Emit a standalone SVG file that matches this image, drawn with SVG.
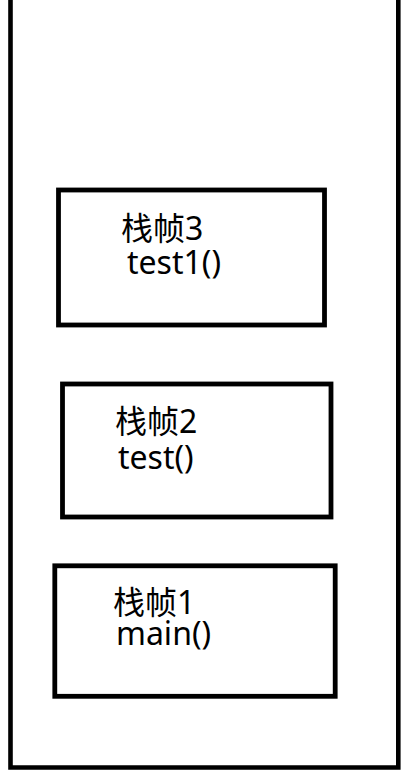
<svg xmlns="http://www.w3.org/2000/svg" width="408" height="776" viewBox="0 0 408 776">
<style>
.frame{fill:#ffffff;stroke:#000000;stroke-width:4.8}
.lbl{font-family:"Noto Sans","Noto Sans CJK SC",sans-serif;font-size:32px;fill:#000000}
</style>
<rect x="0" y="0" width="408" height="776" fill="#ffffff"/>
<g id="stack">
<path d="M10.5,0 V767.5 H398.3 V0" fill="none" stroke="#000000" stroke-width="4.6"/>
</g>
<g id="connectors"></g>
<g id="frame3">
<rect class="frame" x="58.5" y="190" width="266" height="135"/>
<text class="lbl"><tspan x="121" y="240">栈帧3</tspan><tspan x="127" y="274">test1()</tspan></text>
</g>
<g id="frame2">
<rect class="frame" x="62.5" y="384" width="268.5" height="133"/>
<text class="lbl"><tspan x="115" y="433">栈帧2</tspan><tspan x="118" y="468.5">test()</tspan></text>
</g>
<g id="frame1">
<rect class="frame" x="54.8" y="565.8" width="280.4" height="130.5"/>
<text class="lbl"><tspan x="113" y="614">栈帧1</tspan><tspan x="116" y="645">main()</tspan></text>
</g>
</svg>
